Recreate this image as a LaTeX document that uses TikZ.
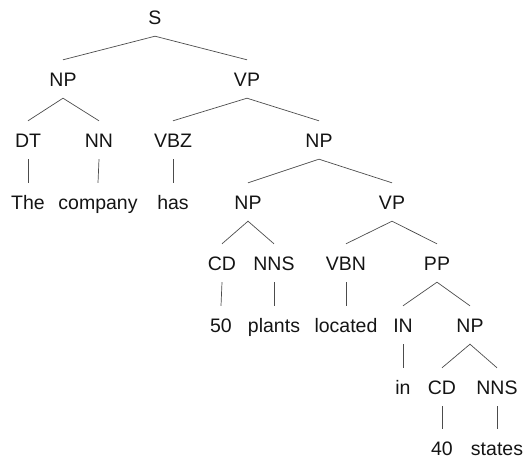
\documentclass[tikz,border=0pt]{standalone}
\usepackage{fontspec}
\setmainfont{Liberation Sans}
\begin{document}
\begin{tikzpicture}[x=1pt,y=-1pt,
  lab/.style={inner xsep=0pt,inner ysep=12pt,text height=14pt,text depth=0pt,
    font=\fontsize{19.5}{23}\selectfont,text=black!92},
  br/.style={draw=black!70,line width=0.7pt}]
\useasboundingbox (0,0) rectangle (523,461);
% row 0
\node[lab] (s) at (155,17) {S};
% row 1
\node[lab] (np1) at (63,79) {NP};
\node[lab] (vp1) at (247,79) {VP};
% row 2
\node[lab] (dt) at (28,140) {DT};
\node[lab] (nn) at (99,140) {NN};
\node[lab] (vbz) at (173,140) {VBZ};
\node[lab] (np2) at (319,140) {NP};
% row 3
\node[lab] (the) at (28,202) {The};
\node[lab] (company) at (98,202) {company};
\node[lab] (has) at (173,202) {has};
\node[lab] (np3) at (248,202) {NP};
\node[lab] (vp2) at (392,202) {VP};
% row 4
\node[lab] (cd1) at (222,263) {CD};
\node[lab] (nns1) at (274,263) {NNS};
\node[lab] (vbn) at (346,263) {VBN};
\node[lab] (pp) at (437,263) {PP};
% row 5
\node[lab] (fifty) at (221,325) {50};
\node[lab] (plants) at (274,325) {plants};
\node[lab] (located) at (346,325) {located};
\node[lab] (in1) at (403,325) {IN};
\node[lab] (np4) at (470,325) {NP};
% row 6
\node[lab] (in) at (403,387) {in};
\node[lab] (cd2) at (442,387) {CD};
\node[lab] (nns2) at (497,387) {NNS};
% row 7
\node[lab] (forty) at (442,448) {40};
\node[lab] (states) at (497,448) {states};
% branches
\draw[br] (np1.north) -- (s.south) -- (vp1.north);
\draw[br] (dt.north) -- (np1.south) -- (nn.north);
\draw[br] (vbz.north) -- (vp1.south) -- (np2.north);
\draw[br] (dt.south) -- (the.north);
\draw[br] (nn.south) -- (company.north);
\draw[br] (vbz.south) -- (has.north);
\draw[br] (np3.north) -- (np2.south) -- (vp2.north);
\draw[br] (cd1.north) -- (np3.south) -- (nns1.north);
\draw[br] (vbn.north) -- (vp2.south) -- (pp.north);
\draw[br] (cd1.south) -- (fifty.north);
\draw[br] (nns1.south) -- (plants.north);
\draw[br] (vbn.south) -- (located.north);
\draw[br] (in1.north) -- (pp.south) -- (np4.north);
\draw[br] (in1.south) -- (in.north);
\draw[br] (cd2.north) -- (np4.south) -- (nns2.north);
\draw[br] (cd2.south) -- (forty.north);
\draw[br] (nns2.south) -- (states.north);
\end{tikzpicture}
\end{document}
